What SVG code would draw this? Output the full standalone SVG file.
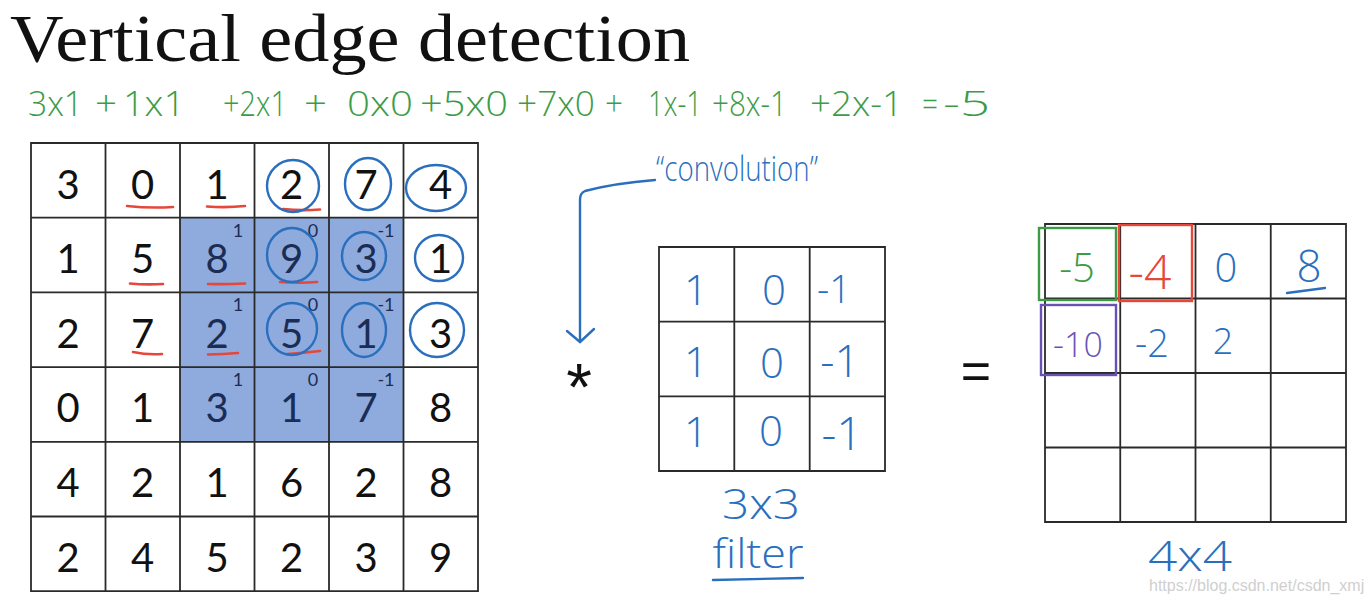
<svg xmlns="http://www.w3.org/2000/svg" width="1371" height="602" viewBox="0 0 1371 602">
<defs>
<style>
.grid{fill:none;stroke:#2a2a2a;stroke-width:1.8}
.num{font-family:Lato,"Open Sans","Liberation Sans",sans-serif;font-size:40px;fill:#111;text-anchor:middle}
.num.sh{fill:#1b2d55}
.sup{font-family:Lato,"Open Sans","Liberation Sans",sans-serif;font-size:18px;fill:#1b2d55;text-anchor:middle}
.hand{font-family:"Open Sans","DejaVu Sans",sans-serif;font-weight:300;text-anchor:middle}
.blue{fill:#2a6fbe}
.ring{fill:none;stroke:#2a6fbe;stroke-width:2.4}
.red{fill:none;stroke:#e5473a;stroke-width:2.6;stroke-linecap:round}
.eq{font-family:"Open Sans","DejaVu Sans",sans-serif;font-weight:300;font-size:35px;fill:#3c9c46}
.stroke-blue{fill:none;stroke:#2a6fbe;stroke-width:2.4;stroke-linecap:round;stroke-linejoin:round}
</style>
<marker id="vhead" markerUnits="userSpaceOnUse" markerWidth="40" markerHeight="40" refX="0" refY="0" viewBox="-20 -20 40 40" orient="auto" overflow="visible">
<path d="M-13,-14 L0,0 L-11,13" fill="none" stroke="#2a6fbe" stroke-width="2.4" stroke-linecap="round" stroke-linejoin="round"/>
</marker>
</defs>
<rect width="1371" height="602" fill="#ffffff"/>

<g id="title">
<text x="10" y="61" font-family="'Liberation Serif',serif" font-size="68" fill="#111" textLength="680" lengthAdjust="spacingAndGlyphs">Vertical edge detection</text>
</g>

<g id="equation">
<text class="eq" x="28" y="116" textLength="55" lengthAdjust="spacingAndGlyphs">3x1</text>
<text class="eq" x="95" y="116" textLength="22" lengthAdjust="spacingAndGlyphs">+</text>
<text class="eq" x="123" y="116" textLength="62" lengthAdjust="spacingAndGlyphs">1x1</text>
<text class="eq" x="223" y="116" textLength="64" lengthAdjust="spacingAndGlyphs">+2x1</text>
<text class="eq" x="304" y="116" textLength="23" lengthAdjust="spacingAndGlyphs">+</text>
<text class="eq" x="347" y="116" textLength="66" lengthAdjust="spacingAndGlyphs">0x0</text>
<text class="eq" x="420" y="116" textLength="88" lengthAdjust="spacingAndGlyphs">+5x0</text>
<text class="eq" x="517" y="116" textLength="78" lengthAdjust="spacingAndGlyphs">+7x0</text>
<text class="eq" x="605" y="116" textLength="18" lengthAdjust="spacingAndGlyphs">+</text>
<text class="eq" x="648" y="116" textLength="54" lengthAdjust="spacingAndGlyphs">1x-1</text>
<text class="eq" x="712" y="116" textLength="75" lengthAdjust="spacingAndGlyphs">+8x-1</text>
<text class="eq" x="810" y="116" textLength="93" lengthAdjust="spacingAndGlyphs">+2x-1</text>
<text class="eq" x="922" y="116" textLength="16" lengthAdjust="spacingAndGlyphs">=</text>
<text class="eq" x="943" y="116" textLength="47" lengthAdjust="spacingAndGlyphs">-5</text>
</g>

<g id="input-grid">
<rect x="180" y="217.7" width="223.5" height="224.1" fill="#8faadc"/>
<path class="grid" d="M31,143H478V591.2H31Z M105.5,143V591.2 M180,143V591.2 M254.5,143V591.2 M329,143V591.2 M403.5,143V591.2 M31,217.7H478 M31,292.4H478 M31,367.1H478 M31,441.8H478 M31,516.5H478"/>
<g>
<text class="num" x="68.2" y="198.5">3</text><text class="num" x="142.7" y="198.5">0</text><text class="num" x="217.2" y="198.5">1</text><text class="num" x="291.7" y="198.5">2</text><text class="num" x="366.2" y="198.5">7</text><text class="num" x="440.7" y="198.5">4</text>
<text class="num" x="68.2" y="273">1</text><text class="num" x="142.7" y="273">5</text><text class="num sh" x="217.2" y="273">8</text><text class="num sh" x="291.7" y="273">9</text><text class="num sh" x="366.2" y="273">3</text><text class="num" x="440.7" y="273">1</text>
<text class="num" x="68.2" y="347.7">2</text><text class="num" x="142.7" y="347.7">7</text><text class="num sh" x="217.2" y="347.7">2</text><text class="num sh" x="291.7" y="347.7">5</text><text class="num sh" x="366.2" y="347.7">1</text><text class="num" x="440.7" y="347.7">3</text>
<text class="num" x="68.2" y="422.4">0</text><text class="num" x="142.7" y="422.4">1</text><text class="num sh" x="217.2" y="422.4">3</text><text class="num sh" x="291.7" y="422.4">1</text><text class="num sh" x="366.2" y="422.4">7</text><text class="num" x="440.7" y="422.4">8</text>
<text class="num" x="68.2" y="497.1">4</text><text class="num" x="142.7" y="497.1">2</text><text class="num" x="217.2" y="497.1">1</text><text class="num" x="291.7" y="497.1">6</text><text class="num" x="366.2" y="497.1">2</text><text class="num" x="440.7" y="497.1">8</text>
<text class="num" x="68.2" y="571.8">2</text><text class="num" x="142.7" y="571.8">4</text><text class="num" x="217.2" y="571.8">5</text><text class="num" x="291.7" y="571.8">2</text><text class="num" x="366.2" y="571.8">3</text><text class="num" x="440.7" y="571.8">9</text>
</g>
<g>
<text class="sup" x="238" y="236.5">1</text><text class="sup" x="313" y="236.5">0</text><text class="sup" x="386" y="236.5">-1</text>
<text class="sup" x="238" y="311.2">1</text><text class="sup" x="313" y="311.2">0</text><text class="sup" x="386" y="311.2">-1</text>
<text class="sup" x="238" y="385.9">1</text><text class="sup" x="313" y="385.9">0</text><text class="sup" x="386" y="385.9">-1</text>
</g>
<g>
<path class="red" d="M127,206 Q150,208.5 173,207"/>
<path class="red" d="M207,206.5 Q226,208 245,206"/>
<path class="red" d="M283,209 Q301,211 320,209.5"/>
<path class="red" d="M130,283.5 Q146,285 163,284"/>
<path class="red" d="M208,284 Q226,284.5 245,283.5"/>
<path class="red" d="M280,282 Q298,283.5 317,282"/>
<path class="red" d="M133,352 Q147,355 162,354"/>
<path class="red" d="M208,354.5 Q223,354 238,353"/>
<path class="red" d="M287,354 Q303,353 320,351"/>
</g>
<g>
<ellipse class="ring" cx="293" cy="186" rx="26" ry="26"/>
<ellipse class="ring" cx="368" cy="184" rx="23" ry="26"/>
<ellipse class="ring" cx="436" cy="188" rx="30" ry="23"/>
<ellipse class="ring" cx="292" cy="255" rx="25" ry="27"/>
<ellipse class="ring" cx="364" cy="256" rx="22" ry="24"/>
<ellipse class="ring" cx="439" cy="258" rx="24" ry="23"/>
<ellipse class="ring" cx="292" cy="329" rx="25" ry="26"/>
<ellipse class="ring" cx="364" cy="330" rx="22" ry="27"/>
<ellipse class="ring" cx="437" cy="330" rx="27" ry="27"/>
</g>
</g>

<g id="operator-star">
<text x="579" y="410" font-family="'Liberation Sans',sans-serif" font-size="66" fill="#111" text-anchor="middle">*</text>
</g>

<g id="convolution-label">
<text class="hand blue" x="737" y="181" font-size="34" textLength="162" lengthAdjust="spacingAndGlyphs">“convolution”</text>
</g>

<g id="filter">
<path class="grid" d="M659,247H885V471H659Z M734.3,247V471 M809.7,247V471 M659,321.7H885 M659,396.3H885"/>
<text class="hand blue" x="696" y="305" font-size="42">1</text><text class="hand blue" x="774" y="305" font-size="42">0</text><text class="hand blue" x="834" y="303" font-size="38">-1</text>
<text class="hand blue" x="696" y="377" font-size="42">1</text><text class="hand blue" x="772" y="378" font-size="42">0</text><text class="hand blue" x="840" y="377" font-size="44">-1</text>
<text class="hand blue" x="696" y="447" font-size="42">1</text><text class="hand blue" x="771" y="446" font-size="42">0</text><text class="hand blue" x="842" y="450" font-size="46">-1</text>
</g>

<g id="filter-label">
<text class="hand blue" x="761" y="519" font-size="42" textLength="78" lengthAdjust="spacingAndGlyphs">3x3</text>
<text class="hand blue" x="758" y="568" font-size="40" textLength="91" lengthAdjust="spacingAndGlyphs">filter</text>
<path class="stroke-blue" d="M713,580 L803,578"/>
</g>

<g id="operator-equals">
<text x="976" y="389" font-family="'Liberation Sans',sans-serif" font-size="52" fill="#111" text-anchor="middle">=</text>
</g>

<g id="output-grid">
<path class="grid" d="M1045,224H1346V522H1045Z M1120.25,224V522 M1195.5,224V522 M1270.75,224V522 M1045,298.5H1346 M1045,373H1346 M1045,447.5H1346"/>
<rect x="1039" y="228" width="77" height="72" fill="none" stroke="#3c9c46" stroke-width="2.4"/>
<rect x="1119" y="225" width="73" height="76" fill="none" stroke="#e5473a" stroke-width="2.4"/>
<rect x="1041" y="305" width="75" height="70" fill="none" stroke="#6a52b5" stroke-width="2.4"/>
<text class="hand" x="1077" y="282" font-size="40" fill="#3c9c46">-5</text>
<text class="hand" x="1150" y="289" font-size="48" fill="#e5473a">-4</text>
<text class="hand blue" x="1226" y="282" font-size="40">0</text>
<text class="hand blue" x="1309" y="282" font-size="44">8</text>
<path class="stroke-blue" d="M1287,293 L1325,288"/>
<text class="hand" x="1078" y="357" font-size="34" fill="#6a52b5">-10</text>
<text class="hand blue" x="1152" y="357" font-size="38">-2</text>
<text class="hand blue" x="1223" y="354" font-size="36">2</text>
</g>

<g id="output-label">
<text class="hand blue" x="1190" y="571" font-size="42" textLength="84" lengthAdjust="spacingAndGlyphs">4x4</text>
</g>

<g id="connectors">
<path class="stroke-blue" d="M655,180 C630,182 600,187 585,191 Q580,193 580,200 L580,342" marker-end="url(#vhead)"/>
</g>

<g id="watermark">
<text x="1149" y="591" font-family="'Liberation Sans',sans-serif" font-size="16" fill="#cfcfcf">https://blog.csdn.net/csdn_xmj</text>
</g>
</svg>
